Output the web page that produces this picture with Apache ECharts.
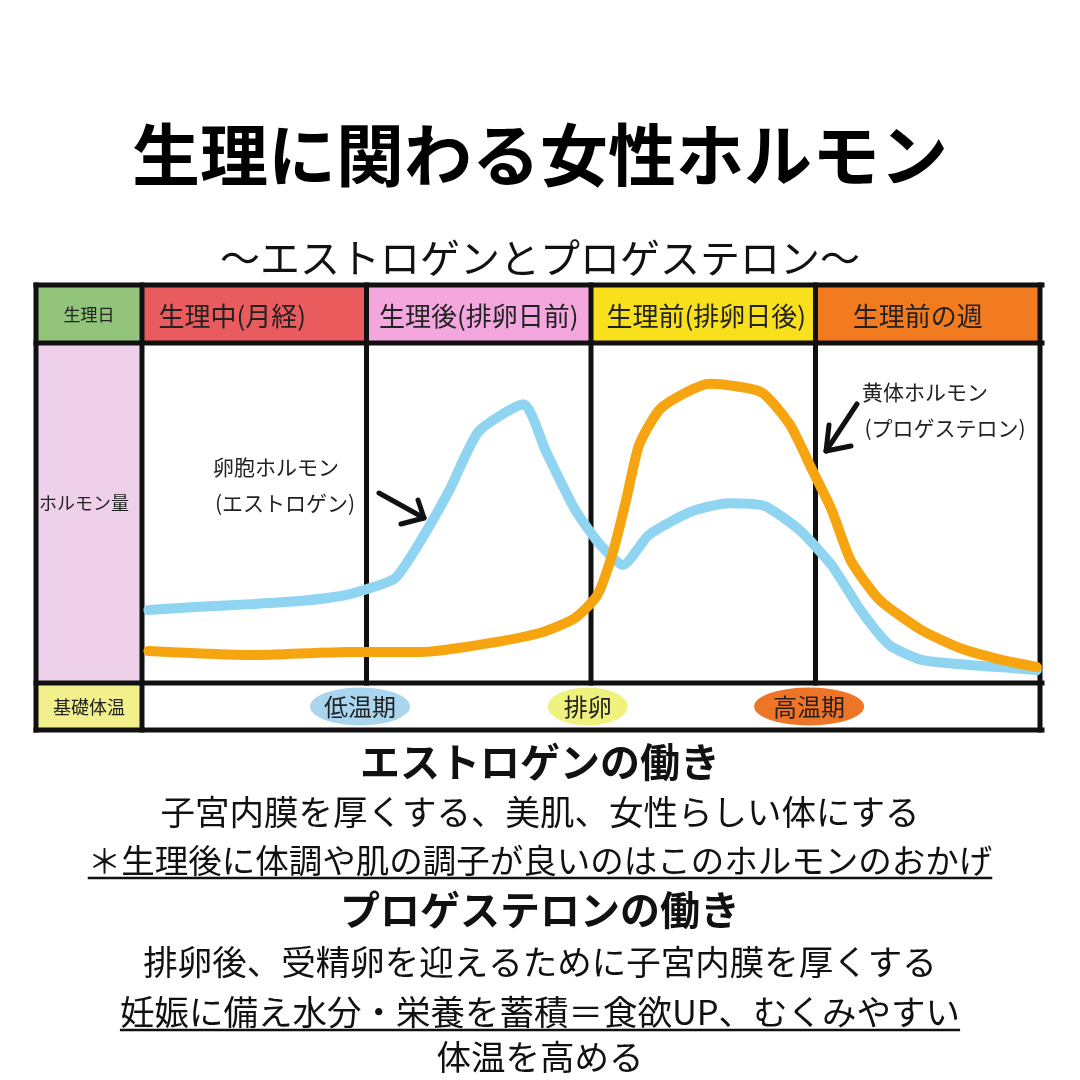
<!DOCTYPE html>
<html>
<head>
<meta charset="utf-8">
<script src="https://cdn.jsdelivr.net/npm/echarts@6/dist/echarts.min.js"></script>
<style>
  html, body { margin: 0; background: #fff; }
  #chart { width: 1080px; height: 1080px; }
</style>
</head>
<body>
<div id="chart"></div>
<script>
// cycle phases (7 days each over a 28 day cycle)
const phases = ['生理中(月経)', '生理後(排卵日前)', '生理前(排卵日後)', '生理前の週']
const phaseDays = [0, 7, 14, 21, 28]

// hormone levels (day, relative level 0-100)
const estrogenDays = [0.2, 1.8, 3.4, 4.9, 6.2, 7.0, 7.9, 8.7, 9.6, 10.5, 11.9, 12.6, 13.5, 14.3, 15.0, 15.8, 17.1, 18.3, 19.4, 20.5, 21.5, 22.4, 23.3, 24.3, 25.8, 27.1, 27.9]
const estrogenLevel = [21.5, 22.4, 23.2, 24.1, 25.6, 27.6, 30.9, 42, 57, 74, 82, 68, 51, 40.5, 34.7, 43.5, 50.3, 52.9, 52.1, 45, 34.7, 21.5, 11.2, 6.8, 5.3, 4.4, 3.8]
const progesteroneDays = [0.2, 3.4, 6.5, 8.7, 10.5, 12.4, 13.5, 14.2, 14.7, 15.1, 15.5, 16.2, 17.7, 19.3, 20.2, 20.9, 21.5, 22.1, 23.0, 24.3, 25.5, 26.8, 27.9]
const progesteroneLevel = [9.4, 8.2, 9.1, 9.1, 11.2, 14.7, 19.1, 25.9, 39, 54, 70, 81, 88, 85.6, 76, 62.6, 51, 36, 24.4, 15.6, 10.3, 6.8, 4.7]

// basal body temperature badges (label, centre day)
const tempLabels = ['低温期', '排卵', '高温期']
const tempDays = [6.8, 13.9, 20.8]

const rowLabels = ['生理日', 'ホルモン量', '基礎体温']
const notes = [
  { text: 'エストロゲンの働き', bold: true },
  { text: '子宮内膜を厚くする、美肌、女性らしい体にする' },
  { text: '＊生理後に体調や肌の調子が良いのはこのホルモンのおかげ', underline: true },
  { text: 'プロゲステロンの働き', bold: true },
  { text: '排卵後、受精卵を迎えるために子宮内膜を厚くする' },
  { text: '妊娠に備え水分・栄養を蓄積＝食欲UP、むくみやすい', underline: true },
  { text: '体温を高める' }
]

const font = '"Noto Sans CJK JP", "Noto Sans", sans-serif'
const phaseColors = ['#e95b5d', '#f4a6de', '#f8e01c', '#f27a1f']
const tempColors = ['#a9d5ef', '#eff27e', '#ee7428']

// table layout
const tableL = 36, tableR = 1042, labelR = 142, plotR = 1040
const rowY = [285, 343, 683, 730]
const dayX = d => labelR + d / 28 * (plotR - labelR)
const border = 5

const measure = (() => {
  const ctx = document.createElement('canvas').getContext('2d')
  return (text, size, weight) => {
    ctx.font = `${weight || 'normal'} ${size}px ${font}`
    return ctx.measureText(text).width
  }
})()

const graphics = []
const text = (x, y, str, size, extra) => graphics.push({
  type: 'text', x, y, z: 20,
  style: Object.assign({ text: str, fontFamily: font, fontSize: size, fill: '#222', align: 'center', verticalAlign: 'middle' }, extra || {})
})
const rect = (x1, y1, x2, y2, fill) => graphics.push({
  type: 'rect', z: 1, shape: { x: x1, y: y1, width: x2 - x1, height: y2 - y1 }, style: { fill }
})
const line = (x1, y1, x2, y2, w) => graphics.push({
  type: 'line', z: 5, shape: { x1, y1, x2, y2 }, style: { stroke: '#111', lineWidth: w || border, lineCap: 'square' }
})
const arrow = (pts, w) => graphics.push({
  type: 'polyline', z: 20, shape: { points: pts }, style: { stroke: '#111', lineWidth: w, fill: null, lineCap: 'round', lineJoin: 'round' }
})

// header fills
rect(tableL, rowY[0], labelR, rowY[1], '#92c47c')
phases.forEach((p, i) => rect(dayX(phaseDays[i]), rowY[0], dayX(phaseDays[i + 1]), rowY[1], phaseColors[i]))
rect(tableL, rowY[1], labelR, rowY[2], '#efd0ea')
rect(tableL, rowY[2], labelR, rowY[3], '#f2f08c')

// grid lines
rowY.forEach(y => line(tableL, y, tableR, y))
line(tableL, rowY[0], tableL, rowY[3])
line(labelR, rowY[0], labelR, rowY[3])
line(plotR, rowY[0], plotR, rowY[3])
phaseDays.slice(1, -1).forEach(d => line(dayX(d), rowY[0], dayX(d), rowY[2]))

// header + row labels
const phaseShift = [-22, 0, 3, -10]
phases.forEach((p, i) => text((dayX(phaseDays[i]) + dayX(phaseDays[i + 1])) / 2 + phaseShift[i], (rowY[0] + rowY[1]) / 2 + 2, p, 26))
rowLabels.forEach((l, i) => {
  const y = i === 1 ? 503 : (rowY[i === 0 ? 0 : 2] + rowY[i === 0 ? 1 : 3]) / 2 + 1
  text((tableL + labelR) / 2 + (i === 1 ? -5 : 0), y, l, i === 0 ? 17 : 18)
})

// basal temperature badges
const badgeW = [50, 40, 55]
tempLabels.forEach((t, i) => {
  const cx = dayX(tempDays[i]), cy = (rowY[2] + rowY[3]) / 2
  graphics.push({ type: 'circle', x: cx, y: cy, scaleX: badgeW[i] / 19, z: 10, shape: { cx: 0, cy: 0, r: 19 }, style: { fill: tempColors[i] } })
  text(cx, cy, t, 24)
})

// curve annotations
text(276, 467, '卵胞ホルモン', 21)
text(285, 503, '(エストロゲン)', 21)
arrow([[379, 493], [424, 518]], 5)
arrow([[401, 524], [424, 518], [418, 500]], 5)
text(925, 392, '黄体ホルモン', 21)
text(945, 428, '(プロゲステロン)', 21)
arrow([[857, 404], [826, 451]], 5)
arrow([[829, 425], [826, 451], [851, 446]], 5)

// title block
text(540, 155, '生理に関わる女性ホルモン', 68, { fontWeight: 'bold', fill: '#000' })
text(540, 258, '〜エストロゲンとプロゲステロン〜', 40, { fill: '#111' })

// notes under the chart
const noteY = [762, 812, 860, 910, 962, 1012, 1057]
const noteSize = [40, 34.5, 33.5, 40, 34.5, 34.5, 34.5]
notes.forEach((n, i) => {
  const size = noteSize[i]
  const weight = n.bold ? 'bold' : 'normal'
  text(540, noteY[i], n.text, size, { fontWeight: weight, fill: '#111' })
  if (n.underline) {
    const w = measure(n.text, size, weight)
    graphics.push({ type: 'line', z: 20, shape: { x1: 540 - w / 2, y1: noteY[i] + 18, x2: 540 + w / 2, y2: noteY[i] + 18 }, style: { stroke: '#111', lineWidth: 2.5 } })
  }
})

const chart = echarts.init(document.getElementById('chart'))
chart.setOption({
  animation: false,
  backgroundColor: '#fff',
  grid: { left: labelR, right: 1080 - plotR, top: rowY[1], bottom: 1080 - rowY[2] },
  xAxis: { type: 'value', min: 0, max: 28, show: false },
  yAxis: { type: 'value', min: 0, max: 100, show: false },
  series: [
    {
      name: '卵胞ホルモン',
      type: 'line',
      z: 10,
      data: estrogenDays.map((d, i) => [d, estrogenLevel[i]]),
      smooth: 0.2,
      symbol: 'none',
      lineStyle: { color: '#8fd5f1', width: 10, cap: 'round', join: 'round' }
    },
    {
      name: '黄体ホルモン',
      type: 'line',
      z: 11,
      data: progesteroneDays.map((d, i) => [d, progesteroneLevel[i]]),
      smooth: 0.2,
      symbol: 'none',
      lineStyle: { color: '#f6a511', width: 10, cap: 'round', join: 'round' }
    }
  ],
  graphic: graphics
})
</script>
</body>
</html>
